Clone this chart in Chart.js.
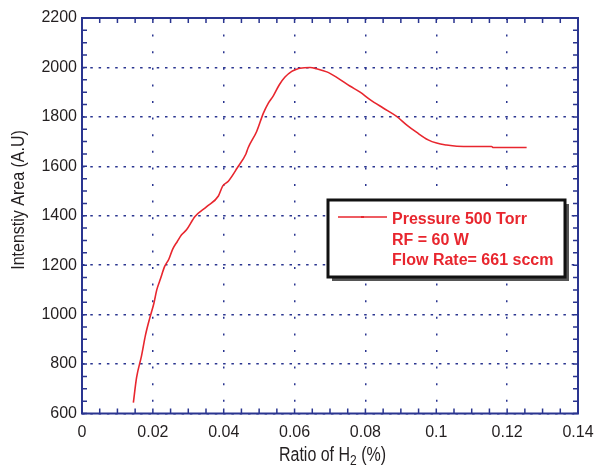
<!DOCTYPE html>
<html>
<head>
<meta charset="utf-8">
<script src="https://cdn.jsdelivr.net/npm/chart.js@4.4.0/dist/chart.umd.min.js"></script>
<style>
  html, body { margin: 0; padding: 0; background: #fff; }
  #wrap { width: 597px; height: 465px; position: relative; }
</style>
</head>
<body>
<div id="wrap"><canvas id="chart"></canvas></div>
<script>
// data
const ratioH2 = [0.0145, 0.0154, 0.0168, 0.0179, 0.0191, 0.0203, 0.0211, 0.0222, 0.0233, 0.0245,
  0.0256, 0.0269, 0.0281, 0.0295, 0.0319, 0.0352, 0.0385, 0.0397, 0.0413, 0.0438,
  0.0463, 0.0469, 0.0493, 0.0512, 0.0526, 0.0540, 0.0557, 0.0573, 0.0592, 0.0606,
  0.0615, 0.0644, 0.0662, 0.0691, 0.0719, 0.0756, 0.0785, 0.0813, 0.0850, 0.0888,
  0.0916, 0.0945, 0.0977, 0.1001, 0.1029, 0.1058, 0.1104, 0.1156, 0.1161, 0.1255]
const intensity = [644, 745, 833, 916, 985, 1046, 1100, 1147, 1194, 1224,
  1265, 1296, 1323, 1343, 1397, 1437, 1480, 1520, 1540, 1593,
  1651, 1675, 1741, 1815, 1856, 1885, 1930, 1961, 1984, 1993,
  1997, 2000, 1995, 1982, 1960, 1925, 1900, 1870, 1836, 1802,
  1768, 1737, 1707, 1694, 1686, 1681, 1680, 1680, 1676, 1676]
const xTicks = [0, 0.02, 0.04, 0.06, 0.08, 0.1, 0.12, 0.14]
const yTicks = [600, 800, 1000, 1200, 1400, 1600, 1800, 2000, 2200]
const legendLines = ['Pressure 500 Torr', 'RF = 60 W', 'Flow Rate= 661 sccm']
const yTitle = 'Intenstiy Area (A.U)'
const xTitle = ['Ratio of H', '2', ' (%)']

const navy = '#2a3590'
const red = '#e8262e'
const txt = '#231f20'

// 外框、內向刻度、圖例、軸標題
const framePlugin = {
  id: 'frame',
  afterDraw (chart) {
    const ctx = chart.ctx
    const a = chart.chartArea
    const xs = chart.scales.x
    const ys = chart.scales.y
    ctx.save()
    ctx.strokeStyle = navy
    ctx.lineWidth = 2
    ctx.strokeRect(a.left, a.top, a.right - a.left, a.bottom - a.top)
    ctx.lineWidth = 1.5
    ctx.beginPath()
    for (let v = xTicks[0]; v <= xTicks[xTicks.length - 1] + 1e-9; v += 0.005) {
      const px = xs.getPixelForValue(v)
      ctx.moveTo(px, a.bottom); ctx.lineTo(px, a.bottom - 5)
      ctx.moveTo(px, a.top); ctx.lineTo(px, a.top + 5)
    }
    for (let v = yTicks[0]; v <= yTicks[yTicks.length - 1]; v += 50) {
      const py = ys.getPixelForValue(v)
      ctx.moveTo(a.left, py); ctx.lineTo(a.left + 5, py)
      ctx.moveTo(a.right, py); ctx.lineTo(a.right - 5, py)
    }
    ctx.stroke()

    // legend box
    const bx = 328; const by = 200; const bw = 237; const bh = 77
    ctx.fillStyle = '#555'
    ctx.fillRect(bx + 4, by + 4, bw, bh)
    ctx.fillStyle = '#fff'
    ctx.fillRect(bx, by, bw, bh)
    ctx.strokeStyle = '#111'
    ctx.lineWidth = 3
    ctx.strokeRect(bx, by, bw, bh)
    ctx.strokeStyle = red
    ctx.lineWidth = 1.5
    ctx.beginPath()
    ctx.moveTo(338, 217); ctx.lineTo(387, 217)
    ctx.stroke()
    ctx.fillStyle = red
    ctx.fillRect(361, 216, 3, 2)
    ctx.font = 'bold 16px "Liberation Sans", Arial, sans-serif'
    ctx.textBaseline = 'alphabetic'
    ctx.textAlign = 'left'
    legendLines.forEach((line, i) => {
      ctx.fillText(line, 392, 224 + i * 20.5)
    })

    // y title
    ctx.fillStyle = txt
    ctx.font = '16px "Liberation Sans", Arial, sans-serif'
    ctx.save()
    ctx.translate(24, 200)
    ctx.rotate(-Math.PI / 2)
    ctx.scale(1, 1.15)
    ctx.textAlign = 'center'
    ctx.fillText(yTitle, 0, 0)
    ctx.restore()

    // x title with subscript
    ctx.save()
    const w0 = ctx.measureText(xTitle[0]).width
    ctx.font = '12px "Liberation Sans", Arial, sans-serif'
    const w1 = ctx.measureText(xTitle[1]).width
    ctx.font = '16px "Liberation Sans", Arial, sans-serif'
    const w2 = ctx.measureText(xTitle[2]).width
    const total = w0 + w1 + w2
    ctx.translate(332.5 - total / 2, 461)
    ctx.scale(1, 1.25)
    ctx.textAlign = 'left'
    ctx.fillText(xTitle[0], 0, 0)
    ctx.fillText(xTitle[2], w0 + w1, 0)
    ctx.font = '12px "Liberation Sans", Arial, sans-serif'
    ctx.fillText(xTitle[1], w0, 3)
    ctx.restore()
    ctx.restore()
  }
}

new Chart(document.getElementById('chart'), {
  type: 'line',
  data: {
    datasets: [{
      label: legendLines[0],
      data: ratioH2.map((x, i) => ({ x, y: intensity[i] })),
      borderColor: red,
      borderWidth: 1.6,
      pointRadius: 0,
      cubicInterpolationMode: 'monotone',
      fill: false
    }]
  },
  options: {
    responsive: true,
    maintainAspectRatio: false,
    animation: false,
    layout: { padding: { top: 18, right: 19, left: 0, bottom: 0 } },
    plugins: {
      legend: { display: false },
      tooltip: { enabled: false }
    },
    scales: {
      x: {
        type: 'linear',
        min: xTicks[0],
        max: xTicks[xTicks.length - 1],
        afterFit (s) {
          s.height = 51.5
          s.paddingLeft = 0
          s.paddingRight = 0
        },
        afterBuildTicks (s) { s.ticks = xTicks.map(v => ({ value: v })) },
        grid: { color: navy, lineWidth: 1.5, drawTicks: false },
        border: { display: false, dash: [2, 14.6] },
        ticks: {
          padding: 9,
          color: txt,
          font: { family: '"Liberation Sans", Arial, sans-serif', size: 16 },
          callback: v => String(+v.toFixed(2))
        }
      },
      y: {
        min: yTicks[0],
        max: yTicks[yTicks.length - 1],
        afterFit (s) {
          s.width = 82
          s.paddingTop = 0
          s.paddingBottom = 0
        },
        afterBuildTicks (s) { s.ticks = yTicks.map(v => ({ value: v })) },
        grid: { color: navy, lineWidth: 1.5, drawTicks: false },
        border: { display: false, dash: [2.5, 5.8] },
        ticks: {
          padding: 5,
          color: txt,
          font: { family: '"Liberation Sans", Arial, sans-serif', size: 16 },
          callback: v => String(v)
        }
      }
    }
  },
  plugins: [framePlugin]
})
</script>
</body>
</html>
